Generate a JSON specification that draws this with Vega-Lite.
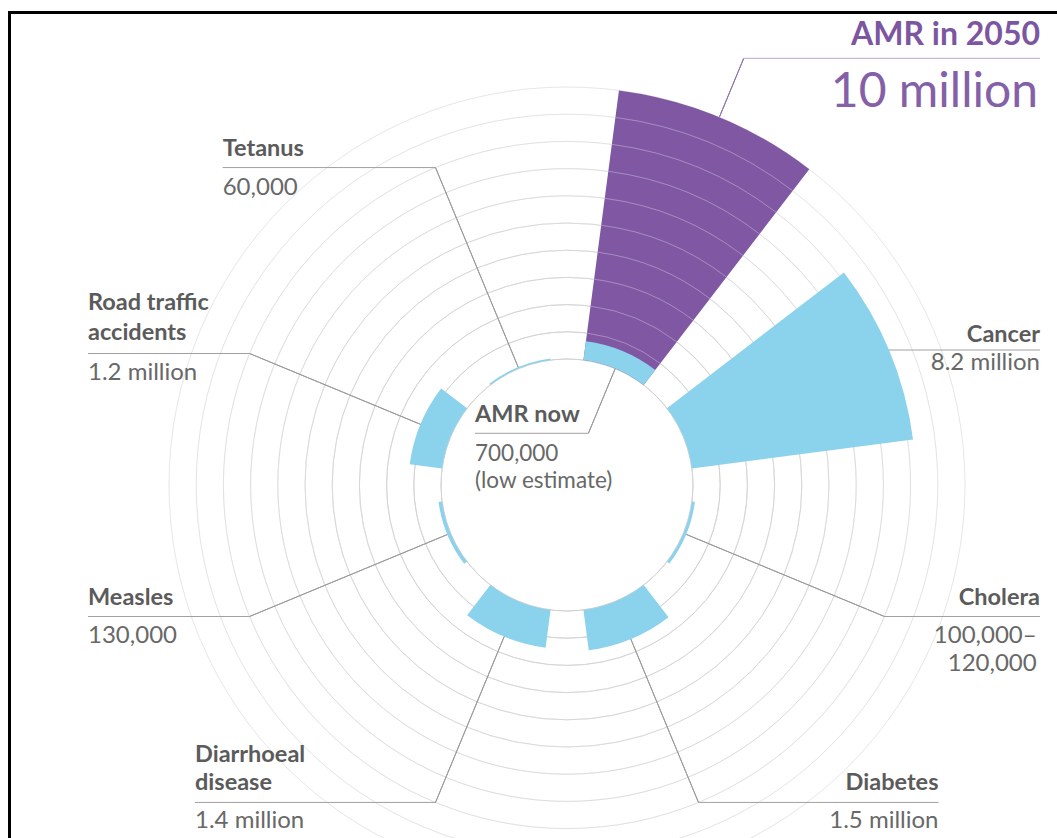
{
  "$schema": "https://vega.github.io/schema/vega-lite/v6.json",
  "width": 1048,
  "height": 826,
  "autosize": {"type": "none"},
  "padding": {"left": 9, "top": 12, "right": 0, "bottom": 0},
  "background": "#ffffff",
  "config": {"view": {"stroke": null}, "text": {"font": "Lato"}},
  "datasets": {
    "causes": [
      {"cause": "AMR", "period": "2050", "deaths": 10000000, "name": "AMR in 2050", "label": "10 million"},
      {"cause": "AMR", "period": "now", "deaths": 700000, "name": "AMR now", "label": "700,000\n(low estimate)"},
      {"cause": "Cancer", "period": "now", "deaths": 8200000, "name": "Cancer", "label": "8.2 million"},
      {"cause": "Cholera", "period": "now", "deaths": 110000, "name": "Cholera", "label": "100,000–\n120,000"},
      {"cause": "Diabetes", "period": "now", "deaths": 1500000, "name": "Diabetes", "label": "1.5 million"},
      {"cause": "Diarrhoeal disease", "period": "now", "deaths": 1400000, "name": "Diarrhoeal\ndisease", "label": "1.4 million"},
      {"cause": "Measles", "period": "now", "deaths": 130000, "name": "Measles", "label": "130,000"},
      {"cause": "Road traffic accidents", "period": "now", "deaths": 1200000, "name": "Road traffic\naccidents", "label": "1.2 million"},
      {"cause": "Tetanus", "period": "now", "deaths": 60000, "name": "Tetanus", "label": "60,000"}
    ],
    "rings": [
      {"g": 0}, {"g": 1000000}, {"g": 2000000}, {"g": 3000000}, {"g": 4000000}, {"g": 5000000},
      {"g": 6000000}, {"g": 7000000}, {"g": 8000000}, {"g": 9000000}, {"g": 10000000}
    ]
  },
  "data": {"name": "causes"},
  "encoding": {
    "x": {"datum": 0, "type": "quantitative",
      "scale": {"domain": [-20.5147, 18.0147], "nice": false, "zero": false},
      "axis": {"orient": "top", "domain": true, "domainColor": "#000000", "domainWidth": 3, "domainCap": "square", "ticks": false, "labels": false, "grid": false, "title": null}},
    "y": {"datum": 0, "type": "quantitative",
      "scale": {"domain": [-12.9779, 17.3897], "nice": false, "zero": false},
      "axis": {"orient": "left", "domain": true, "domainColor": "#000000", "domainWidth": 3, "domainCap": "square", "ticks": false, "labels": false, "grid": false, "title": null}}
  },
  "resolve": {"scale": {"theta": "independent"}},
  "layer": [
    {
      "data": {"name": "rings"},
      "mark": {"type": "arc", "filled": false, "theta": 0, "theta2": 6.2832, "stroke": "#d2d2d2", "strokeWidth": 1},
      "encoding": {
        "radius": {"field": "g", "type": "quantitative", "scale": {"type": "linear", "domain": [0, 10000000], "range": [126, 398], "zero": false, "nice": false}},
        "radius2": {"field": "g"},
        "strokeOpacity": {"field": "g", "type": "quantitative", "scale": {"domain": [0, 10000000], "range": [0.9, 0.3]}, "legend": null}
      }
    },
    {
      "mark": {"type": "arc"},
      "encoding": {
        "theta": {"field": "cause", "type": "nominal", "sort": null,
          "scale": {"type": "band", "domain": ["AMR", "Cancer", "Cholera", "Diabetes", "Diarrhoeal disease", "Measles", "Road traffic accidents", "Tetanus"], "paddingInner": 0.333333, "paddingOuter": 0.166667}},
        "radius": {"field": "deaths", "type": "quantitative", "stack": null,
          "scale": {"type": "linear", "domain": [0, 10000000], "range": [126, 398], "zero": false, "nice": false}},
        "color": {"field": "period", "type": "nominal", "scale": {"domain": ["2050", "now"], "range": ["#7f57a3", "#8bd2ed"]}, "legend": null}
      }
    },
    {
      "data": {"name": "rings"},
      "transform": [{"filter": {"field": "g", "range": [1000000, 9000000]}}],
      "mark": {"type": "arc", "filled": false, "stroke": "#ffffff", "strokeOpacity": 0.17, "strokeWidth": 1},
      "encoding": {
        "theta": {"datum": "AMR", "type": "nominal",
          "scale": {"type": "band", "domain": ["AMR", "Cancer", "Cholera", "Diabetes", "Diarrhoeal disease", "Measles", "Road traffic accidents", "Tetanus"], "paddingInner": 0.333333, "paddingOuter": 0.166667}},
        "radius": {"field": "g", "type": "quantitative", "scale": {"type": "linear", "domain": [0, 10000000], "range": [126, 398], "zero": false, "nice": false}},
        "radius2": {"field": "g"}
      }
    },
    {
      "transform": [{"filter": {"field": "cause", "oneOf": ["Cholera", "Diabetes", "Diarrhoeal disease", "Measles", "Road traffic accidents", "Tetanus"]}}],
      "mark": {"type": "arc", "filled": false, "stroke": "#9b9b9b", "strokeWidth": 1},
      "encoding": {
        "theta": {"field": "cause", "type": "nominal", "sort": null,
          "scale": {"type": "band", "domain": ["AMR", "Cancer", "Cholera", "Diabetes", "Diarrhoeal disease", "Measles", "Road traffic accidents", "Tetanus"], "paddingInner": 1, "paddingOuter": 0.5}},
        "radius": {"field": "deaths", "type": "quantitative", "stack": null,
          "scale": {"type": "linear", "domain": [0, 10000000], "range": [126, 398], "zero": false, "nice": false}},
        "radius2": {"datum": 8000000}
      }
    },
    {
      "transform": [{"filter": {"field": "cause", "equal": "Tetanus"}}],
      "layer": [
        {"mark": {"type": "rule", "stroke": "#a0a0a0", "strokeWidth": 1},
         "encoding": {"x": {"datum": -12.658, "type": "quantitative"}, "x2": {"datum": -4.834}, "y": {"datum": 11.670, "type": "quantitative"}}},
        {"mark": {"type": "text", "font": "Lato", "fontSize": 23.5, "fontWeight": "bold", "color": "#5b5b5b", "align": "left", "baseline": "alphabetic"},
         "encoding": {"x": {"datum": -12.658, "type": "quantitative"}, "y": {"datum": 12.096, "type": "quantitative"}, "text": {"field": "name"}}},
        {"mark": {"type": "text", "font": "Lato", "fontSize": 24, "color": "#686868", "align": "left", "baseline": "alphabetic"},
         "encoding": {"x": {"datum": -12.658, "type": "quantitative"}, "y": {"datum": 10.662, "type": "quantitative"}, "text": {"field": "label"}}}
      ]
    },
    {
      "transform": [{"filter": {"field": "cause", "equal": "Road traffic accidents"}}],
      "layer": [
        {"mark": {"type": "rule", "stroke": "#a0a0a0", "strokeWidth": 1},
         "encoding": {"x": {"datum": -17.610, "type": "quantitative"}, "x2": {"datum": -11.670}, "y": {"datum": 4.834, "type": "quantitative"}}},
        {"mark": {"type": "text", "font": "Lato", "fontSize": 23.5, "fontWeight": "bold", "color": "#5b5b5b", "align": "left", "baseline": "alphabetic", "lineBreak": "\n", "lineHeight": 30.5},
         "encoding": {"x": {"datum": -17.610, "type": "quantitative"}, "y": {"datum": 6.434, "type": "quantitative"}, "text": {"field": "name"}}},
        {"mark": {"type": "text", "font": "Lato", "fontSize": 24, "color": "#686868", "align": "left", "baseline": "alphabetic"},
         "encoding": {"x": {"datum": -17.610, "type": "quantitative"}, "y": {"datum": 3.860, "type": "quantitative"}, "text": {"field": "label"}}}
      ]
    },
    {
      "transform": [{"filter": {"field": "cause", "equal": "Measles"}}],
      "layer": [
        {"mark": {"type": "rule", "stroke": "#a0a0a0", "strokeWidth": 1},
         "encoding": {"x": {"datum": -17.610, "type": "quantitative"}, "x2": {"datum": -11.670}, "y": {"datum": -4.834, "type": "quantitative"}}},
        {"mark": {"type": "text", "font": "Lato", "fontSize": 23.5, "fontWeight": "bold", "color": "#5b5b5b", "align": "left", "baseline": "alphabetic"},
         "encoding": {"x": {"datum": -17.610, "type": "quantitative"}, "y": {"datum": -4.412, "type": "quantitative"}, "text": {"field": "name"}}},
        {"mark": {"type": "text", "font": "Lato", "fontSize": 24, "color": "#686868", "align": "left", "baseline": "alphabetic"},
         "encoding": {"x": {"datum": -17.610, "type": "quantitative"}, "y": {"datum": -5.809, "type": "quantitative"}, "text": {"field": "label"}}}
      ]
    },
    {
      "transform": [{"filter": {"field": "cause", "equal": "Diarrhoeal disease"}}],
      "layer": [
        {"mark": {"type": "rule", "stroke": "#a0a0a0", "strokeWidth": 1},
         "encoding": {"x": {"datum": -13.676, "type": "quantitative"}, "x2": {"datum": -4.834}, "y": {"datum": -11.670, "type": "quantitative"}}},
        {"mark": {"type": "text", "font": "Lato", "fontSize": 23.5, "fontWeight": "bold", "color": "#5b5b5b", "align": "left", "baseline": "alphabetic", "lineBreak": "\n", "lineHeight": 28.5},
         "encoding": {"x": {"datum": -13.676, "type": "quantitative"}, "y": {"datum": -10.173, "type": "quantitative"}, "text": {"field": "name"}}},
        {"mark": {"type": "text", "font": "Lato", "fontSize": 24, "color": "#686868", "align": "left", "baseline": "alphabetic"},
         "encoding": {"x": {"datum": -13.676, "type": "quantitative"}, "y": {"datum": -12.610, "type": "quantitative"}, "text": {"field": "label"}}}
      ]
    },
    {
      "transform": [{"filter": {"field": "cause", "equal": "Diabetes"}}],
      "layer": [
        {"mark": {"type": "rule", "stroke": "#a0a0a0", "strokeWidth": 1},
         "encoding": {"x": {"datum": 4.834, "type": "quantitative"}, "x2": {"datum": 13.658}, "y": {"datum": -11.670, "type": "quantitative"}}},
        {"mark": {"type": "text", "font": "Lato", "fontSize": 23.5, "fontWeight": "bold", "color": "#5b5b5b", "align": "right", "baseline": "alphabetic"},
         "encoding": {"x": {"datum": 13.658, "type": "quantitative"}, "y": {"datum": -11.213, "type": "quantitative"}, "text": {"field": "name"}}},
        {"mark": {"type": "text", "font": "Lato", "fontSize": 24, "color": "#686868", "align": "right", "baseline": "alphabetic"},
         "encoding": {"x": {"datum": 13.658, "type": "quantitative"}, "y": {"datum": -12.610, "type": "quantitative"}, "text": {"field": "label"}}}
      ]
    },
    {
      "transform": [{"filter": {"field": "cause", "equal": "Cholera"}}],
      "layer": [
        {"mark": {"type": "rule", "stroke": "#a0a0a0", "strokeWidth": 1},
         "encoding": {"x": {"datum": 11.670, "type": "quantitative"}, "x2": {"datum": 17.390}, "y": {"datum": -4.834, "type": "quantitative"}}},
        {"mark": {"type": "text", "font": "Lato", "fontSize": 23.5, "fontWeight": "bold", "color": "#5b5b5b", "align": "right", "baseline": "alphabetic"},
         "encoding": {"x": {"datum": 17.390, "type": "quantitative"}, "y": {"datum": -4.412, "type": "quantitative"}, "text": {"field": "name"}}},
        {"mark": {"type": "text", "font": "Lato", "fontSize": 24, "color": "#686868", "align": "right", "baseline": "alphabetic", "lineBreak": "\n", "lineHeight": 28},
         "encoding": {"x": {"datum": 17.268, "type": "quantitative"}, "y": {"datum": -5.809, "type": "quantitative"}, "text": {"field": "label"}}}
      ]
    },
    {
      "transform": [{"filter": {"field": "cause", "equal": "Cancer"}}],
      "layer": [
        {"mark": {"type": "rule", "stroke": "#a0a0a0", "strokeWidth": 1},
         "encoding": {"x": {"datum": 11.831, "type": "quantitative"}, "x2": {"datum": 17.390}, "y": {"datum": 4.963, "type": "quantitative"}}},
        {"mark": {"type": "text", "font": "Lato", "fontSize": 23.5, "fontWeight": "bold", "color": "#5b5b5b", "align": "right", "baseline": "alphabetic"},
         "encoding": {"x": {"datum": 17.390, "type": "quantitative"}, "y": {"datum": 5.268, "type": "quantitative"}, "text": {"field": "name"}}},
        {"mark": {"type": "text", "font": "Lato", "fontSize": 24, "color": "#686868", "align": "right", "baseline": "alphabetic"},
         "encoding": {"x": {"datum": 17.390, "type": "quantitative"}, "y": {"datum": 4.228, "type": "quantitative"}, "text": {"field": "label"}}}
      ]
    },
    {
      "transform": [{"filter": {"field": "period", "equal": "2050"}}],
      "layer": [
        {"mark": {"type": "arc", "filled": false, "stroke": "#8d73b0", "strokeWidth": 1},
         "encoding": {
           "theta": {"field": "cause", "type": "nominal", "sort": null,
             "scale": {"type": "band", "domain": ["AMR", "Cancer", "Cholera", "Diabetes", "Diarrhoeal disease", "Measles", "Road traffic accidents", "Tetanus"], "paddingInner": 1, "paddingOuter": 0.5}},
           "radius": {"field": "deaths", "type": "quantitative", "stack": null,
             "scale": {"type": "linear", "domain": [0, 10000000], "range": [126, 398], "zero": false, "nice": false}},
           "radius2": {"datum": 12346000}}},
        {"mark": {"type": "rule", "stroke": "#c4b7d6", "strokeWidth": 1.2},
         "encoding": {"x": {"datum": 6.498, "type": "quantitative"}, "x2": {"datum": 17.390}, "y": {"datum": 15.687, "type": "quantitative"}}},
        {"mark": {"type": "text", "font": "Lato", "fontSize": 32, "fontWeight": "bold", "color": "#7c56a0", "align": "right", "baseline": "alphabetic"},
         "encoding": {"x": {"datum": 17.390, "type": "quantitative"}, "y": {"datum": 16.176, "type": "quantitative"}, "text": {"field": "name"}}},
        {"mark": {"type": "text", "font": "Lato", "fontSize": 48, "color": "#8460a8", "align": "right", "baseline": "alphabetic"},
         "encoding": {"x": {"datum": 17.316, "type": "quantitative"}, "y": {"datum": 13.908, "type": "quantitative"}, "text": {"field": "label"}}}
      ]
    },
    {
      "transform": [{"filter": {"and": [{"field": "cause", "equal": "AMR"}, {"field": "period", "equal": "now"}]}}],
      "layer": [
        {"mark": {"type": "arc", "filled": false, "stroke": "#9b9b9b", "strokeWidth": 1},
         "encoding": {
           "theta": {"field": "cause", "type": "nominal", "sort": null,
             "scale": {"type": "band", "domain": ["AMR", "Cancer", "Cholera", "Diabetes", "Diarrhoeal disease", "Measles", "Road traffic accidents", "Tetanus"], "paddingInner": 1, "paddingOuter": 0.5}},
           "radius": {"datum": 0, "type": "quantitative",
             "scale": {"type": "linear", "domain": [0, 10000000], "range": [126, 398], "zero": false, "nice": false}},
           "radius2": {"datum": -2574700}}},
        {"mark": {"type": "rule", "stroke": "#a0a0a0", "strokeWidth": 1},
         "encoding": {"x": {"datum": -3.382, "type": "quantitative"}, "x2": {"datum": 0.787}, "y": {"datum": 1.901, "type": "quantitative"}}},
        {"mark": {"type": "text", "font": "Lato", "fontSize": 23.5, "fontWeight": "bold", "color": "#5b5b5b", "align": "left", "baseline": "alphabetic"},
         "encoding": {"x": {"datum": -3.382, "type": "quantitative"}, "y": {"datum": 2.327, "type": "quantitative"}, "text": {"field": "name"}}},
        {"mark": {"type": "text", "font": "Lato", "fontSize": 22.5, "color": "#686868", "align": "left", "baseline": "alphabetic", "lineBreak": "\n", "lineHeight": 27},
         "encoding": {"x": {"datum": -3.382, "type": "quantitative"}, "y": {"datum": 0.893, "type": "quantitative"}, "text": {"field": "label"}}}
      ]
    }
  ]
}
